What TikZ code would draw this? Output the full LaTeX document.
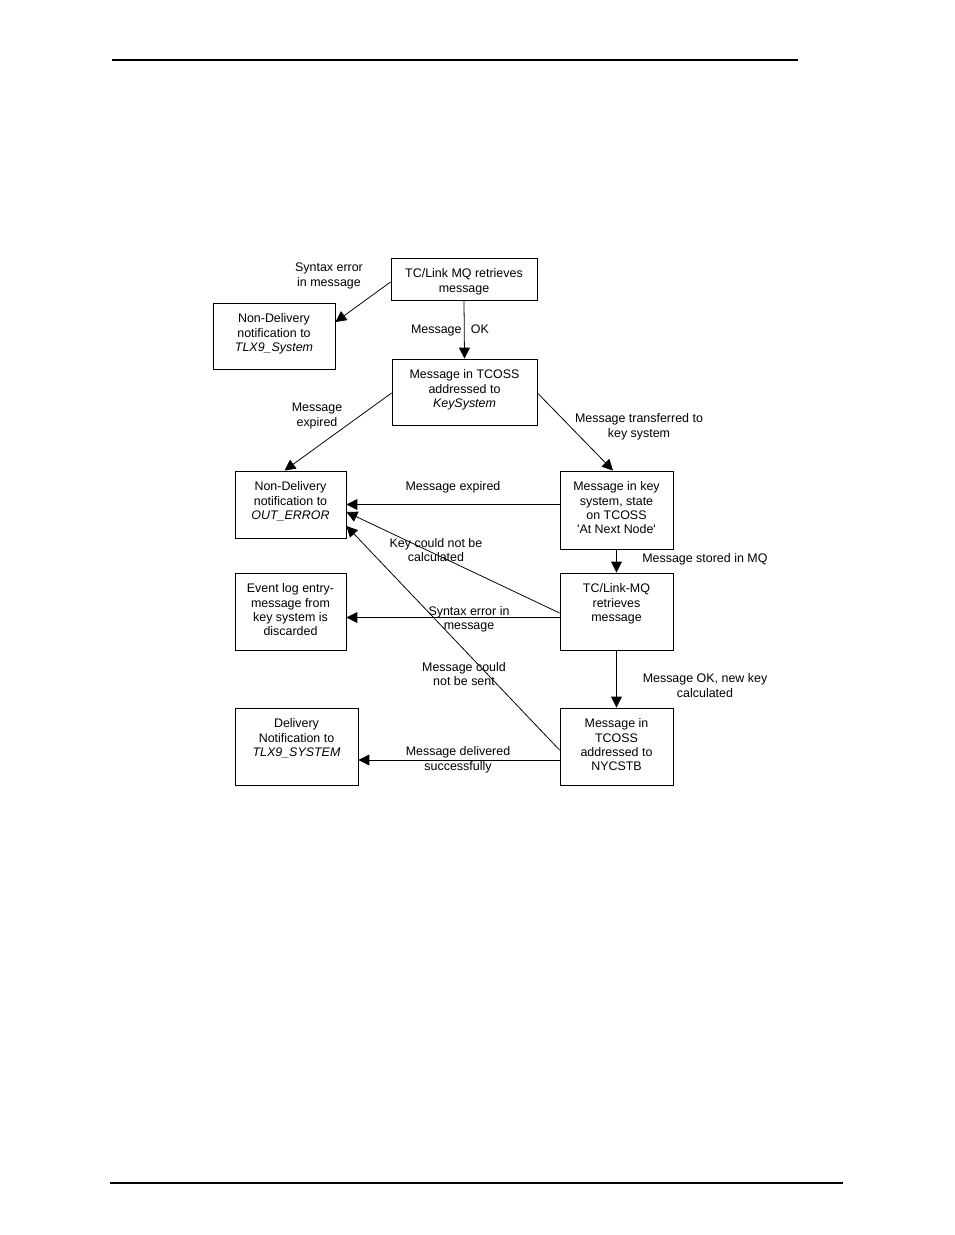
\documentclass[tikz,border=0pt]{standalone}
\usepackage{fontspec}
\setmainfont{Liberation Sans}
\usetikzlibrary{arrows.meta, positioning, calc}
\newcommand{\px}{0.0226cm}
\tikzset{
    % Node styles
    statebox/.style 2 args={
        rectangle,
        draw=black,
        line width=0.6pt,
        minimum width=#1*\px,
        minimum height=#2*\px,
        inner sep=0pt
    },
    boxtext/.style={
        anchor=north,
        align=center,
        inner sep=0pt,
        yshift=-11*\px,
        font=\fontsize{8}{9.1}\selectfont
    },
    edgelabel/.style={
        align=center,
        inner sep=0pt,
        yshift=-2*\px,
        font=\fontsize{8}{9.3}\selectfont
    },
    % Arrow styles
    flow/.style={
        -{Triangle[length=7pt,width=7pt]},
        line width=0.5pt,
        black
    },
    pagerule/.style={
        line width=1pt,
        black
    }
}

\begin{document}
\begin{tikzpicture}[x=\px, y=-\px]
    \useasboundingbox (0,0) rectangle (954,1235);

    % Page rules
    \draw[pagerule] (112,60) -- (798,60);
    \draw[pagerule] (110,1183) -- (843,1183);

    % States
    \node[statebox={146}{42}] (retr) at (464,279) {};
    \node[boxtext] (retr-t) at (retr.north) {TC/Link MQ retrieves\\message};

    \node[statebox={122}{66}] (ndsys) at (274,336) {};
    \node[boxtext] (ndsys-t) at (ndsys.north) {Non-Delivery\\notification to\\\textit{TLX9\_System}};

    \node[statebox={145}{66}] (keysys) at (464.5,392) {};
    \node[boxtext] (keysys-t) at (keysys.north) {Message in TCOSS\\addressed to\\\textit{KeySystem}};

    \node[statebox={111}{67}] (nderr) at (290.5,504.5) {};
    \node[boxtext] (nderr-t) at (nderr.north) {Non-Delivery\\notification to\\\textit{OUT\_ERROR}};

    \node[statebox={113}{78}] (atnode) at (616.5,510) {};
    \node[boxtext] (atnode-t) at (atnode.north) {Message in key\\system, state\\on TCOSS\hspace*{9pt}\\\textquotesingle At Next Node\textquotesingle};

    \node[statebox={111}{77}] (evlog) at (290.5,611.5) {};
    \node[boxtext] (evlog-t) at (evlog.north) {Event log entry-\\message from\\key system is\\discarded};

    \node[statebox={113}{77}] (mqretr) at (616.5,611.5) {};
    \node[boxtext] (mqretr-t) at (mqretr.north) {TC/Link-MQ\\retrieves\\message};

    \node[statebox={123}{77}] (deliv) at (296.5,746.5) {};
    \node[boxtext] (deliv-t) at (deliv.north) {Delivery\\Notification to\\\textit{TLX9\_SYSTEM}};

    \node[statebox={113}{77}] (nycstb) at (616.5,746.5) {};
    \node[boxtext] (nycstb-t) at (nycstb.north) {Message in\\TCOSS\\addressed to\\NYCSTB};

    % Transitions
    \draw[flow] ($(retr.west)+(0,3)$) -- ($(ndsys.east)+(0,-14)$);
    \draw[flow] (retr.south) -- (keysys.north);
    \draw[flow] ($(keysys.west)+(0,1)$) -- ($(nderr.north)+(-6,0)$);
    \draw[flow] ($(keysys.east)+(0,1)$) -- ($(atnode.north)+(-3.5,0)$);
    \draw[flow] (atnode.west |- nderr.east) -- (nderr.east);
    \draw[flow] (atnode.south) -- (mqretr.north);
    \draw[flow] ($(mqretr.west)+(0,1.5)$) -- ($(nderr.east)+(0,7.5)$);
    \draw[flow] ($(mqretr.west)+(0,6)$) -- ($(evlog.east)+(0,6)$);
    \draw[flow] (mqretr.south) -- (nycstb.north);
    \draw[flow] ($(nycstb.west)+(0,3.5)$) -- ($(nderr.east)+(0,21.5)$);
    \draw[flow] ($(nycstb.west)+(0,13.5)$) -- ($(deliv.east)+(0,13.5)$);

    % Transition labels
    \node[edgelabel] (l-syntax1) at (329,274) {Syntax error\\in message};
    \node[edgelabel] (l-ok1) at (450,328) {Message\hspace{6pt}OK};
    \node[edgelabel] (l-exp1) at (317,414) {Message\\expired};
    \node[edgelabel] (l-transf) at (639,425) {Message transferred to\\key system};
    \node[edgelabel] (l-exp2) at (453,485) {Message expired};
    \node[edgelabel, anchor=west] (l-stored) at (642,557) {Message stored in MQ};
    \node[edgelabel] (l-key) at (436,548) {Key could not be\\calculated};
    \node[edgelabel] (l-syntax2) at (469,617.5) {Syntax error in\\message};
    \node[edgelabel] (l-notsent) at (464,672) {Message could\\not be sent};
    \node[edgelabel] (l-ok2) at (705,683.5) {Message OK, new key\\calculated};
    \node[edgelabel] (l-deliv) at (458,758) {Message delivered\\successfully};
\end{tikzpicture}
\end{document}
